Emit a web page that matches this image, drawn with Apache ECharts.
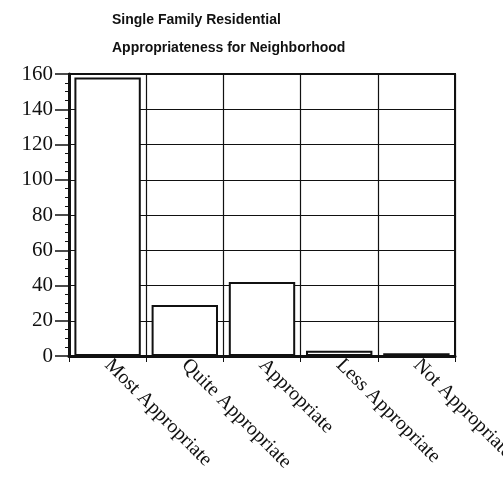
<!DOCTYPE html>
<html>
<head>
<meta charset="utf-8">
<script src="https://cdn.jsdelivr.net/npm/echarts@6/dist/echarts.min.js"></script>
<style>
  html, body { margin: 0; padding: 0; background: #fff; }
  #chart { width: 503px; height: 495px; }
</style>
</head>
<body>
<div id="chart"></div>
<script>
var categories = ['Most Appropriate', 'Quite Appropriate', 'Appropriate', 'Less Appropriate', 'Not Appropriate'];
var counts = [158, 29, 42, 3, 1.5];
var titleLines = ['Single Family Residential', 'Appropriateness for Neighborhood'];

var chart = echarts.init(document.getElementById('chart'));
chart.setOption({
  backgroundColor: '#fff',
  animation: false,
  title: {
    text: titleLines.join('\n'),
    left: 107,
    top: 1,
    textStyle: {
      fontFamily: 'Liberation Sans',
      fontWeight: 'bold',
      fontSize: 14,
      lineHeight: 28,
      color: '#111'
    }
  },
  grid: {
    left: 69, right: 48, top: 74, bottom: 139,
    outerBoundsMode: 'none',
    containLabel: false,
    show: true, borderColor: '#111', borderWidth: 2
  },
  xAxis: {
    type: 'category',
    data: categories,
    axisLine: { lineStyle: { color: '#111', width: 3 } },
    axisTick: { show: true, length: 6, lineStyle: { color: '#111' } },
    splitLine: { show: true, lineStyle: { color: '#111', width: 1.2 } },
    axisLabel: {
      rotate: -45,
      interval: 0,
      margin: 6,
      fontFamily: 'Liberation Serif',
      fontSize: 20,
      color: '#111'
    }
  },
  yAxis: {
    type: 'value',
    min: 0,
    max: 160,
    interval: 20,
    axisLine: { show: true, lineStyle: { color: '#111', width: 3 } },
    axisTick: { show: true, length: 14, lineStyle: { color: '#111', width: 1.5 } },
    minorTick: { show: true, splitNumber: 4, length: 4, lineStyle: { color: '#111' } },
    splitLine: { show: true, lineStyle: { color: '#111', width: 1.2 } },
    axisLabel: {
      margin: 16,
      fontFamily: 'Liberation Serif',
      fontSize: 21,
      color: '#111'
    }
  },
  series: [{
    type: 'bar',
    data: counts,
    barCategoryGap: '14%',
    itemStyle: { color: '#fff', borderColor: '#111', borderWidth: 2 }
  }]
});
</script>
</body>
</html>
